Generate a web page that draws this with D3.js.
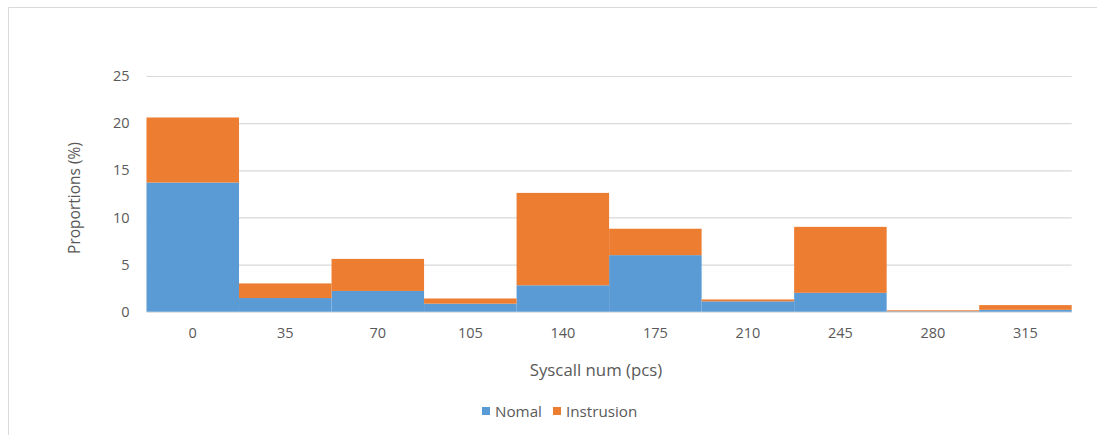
<!DOCTYPE html>
<html>
<head>
<meta charset="utf-8">
<script src="https://cdn.jsdelivr.net/npm/d3@7"></script>
<style>
  html, body { margin: 0; padding: 0; background: #fff; }
  svg { display: block; }
  text { font-family: "Open Sans", sans-serif; fill: #595959; }
</style>
</head>
<body>
<svg id="chart" width="1097" height="435"></svg>
<script>
// Syscall-count bins and the share (%) of traces in each bin
const bins = ["0", "35", "70", "105", "140", "175", "210", "245", "280", "315"];
const normal = [13.7, 1.45, 2.2, 0.85, 2.8, 6.0, 1.1, 2.0, 0.05, 0.2];
const intrusion = [6.9, 1.55, 3.4, 0.55, 9.8, 2.8, 0.2, 7.0, 0.1, 0.5];
const yTicks = [0, 5, 10, 15, 20, 25];
const seriesNames = ["Nomal", "Instrusion"];
const colors = ["#5B9BD5", "#ED7D31"];

const svg = d3.select("#chart");
const W = 1097, H = 435;
const m = { left: 146.5, right: 1071.7, top: 76, bottom: 311.7 };

// Frame (top and left edges)
svg.append("line").attr("x1", 8.5).attr("x2", W).attr("y1", 7.5).attr("y2", 7.5)
  .attr("stroke", "#D9D9D9").attr("stroke-width", 1);
svg.append("line").attr("x1", 8.5).attr("x2", 8.5).attr("y1", 7.5).attr("y2", H)
  .attr("stroke", "#D9D9D9").attr("stroke-width", 1);

const x = d3.scaleBand().domain(bins).range([m.left, m.right]).padding(0);
const y = d3.scaleLinear().domain([0, 25]).range([m.bottom, m.top]);

// Gridlines and y tick labels
const yAxis = d3.axisLeft(y).tickValues(yTicks).tickSize(-(m.right - m.left)).tickPadding(17);
const gy = svg.append("g").attr("transform", `translate(${m.left},0)`).call(yAxis);
gy.select(".domain").remove();
gy.selectAll(".tick line").attr("stroke", "#D9D9D9").attr("stroke-width", 1.2);
gy.selectAll(".tick text").attr("font-size", 14.5).attr("fill", "#595959")
  .attr("font-family", "Open Sans, sans-serif");

// Stacked bars
const rows = bins.map((b, i) => ({ bin: b, Nomal: normal[i], Instrusion: intrusion[i] }));
const stacked = d3.stack().keys(seriesNames)(rows);
svg.append("g").selectAll("g").data(stacked).join("g")
  .attr("fill", (d, i) => colors[i])
  .selectAll("rect").data(d => d).join("rect")
  .attr("x", d => x(d.data.bin))
  .attr("width", x.bandwidth())
  .attr("y", d => y(d[1]))
  .attr("height", d => y(d[0]) - y(d[1]));

// X axis labels
const xAxis = d3.axisBottom(x).tickSize(0).tickPadding(16);
const gx = svg.append("g").attr("transform", `translate(0,${m.bottom})`).call(xAxis);
gx.select(".domain").remove();
gx.selectAll(".tick text").attr("font-size", 14.5).attr("fill", "#595959")
  .attr("font-family", "Open Sans, sans-serif");

// Axis titles
svg.append("text").attr("x", 596).attr("y", 376).attr("text-anchor", "middle")
  .attr("font-size", 16.8).text("Syscall num (pcs)");
svg.append("text").attr("transform", "translate(80,198) rotate(-90)")
  .attr("text-anchor", "middle").attr("font-size", 15.5).text("Proportions (%)");

// Legend
const legend = svg.append("g");
const legendItems = [{ name: seriesNames[0], x: 482 }, { name: seriesNames[1], x: 553 }];
legendItems.forEach((it, i) => {
  legend.append("rect").attr("x", it.x).attr("y", 407).attr("width", 8).attr("height", 8)
    .attr("fill", colors[i]);
  legend.append("text").attr("x", it.x + 13).attr("y", 416.5).attr("font-size", 15.2)
    .text(it.name);
});
</script>
</body>
</html>
